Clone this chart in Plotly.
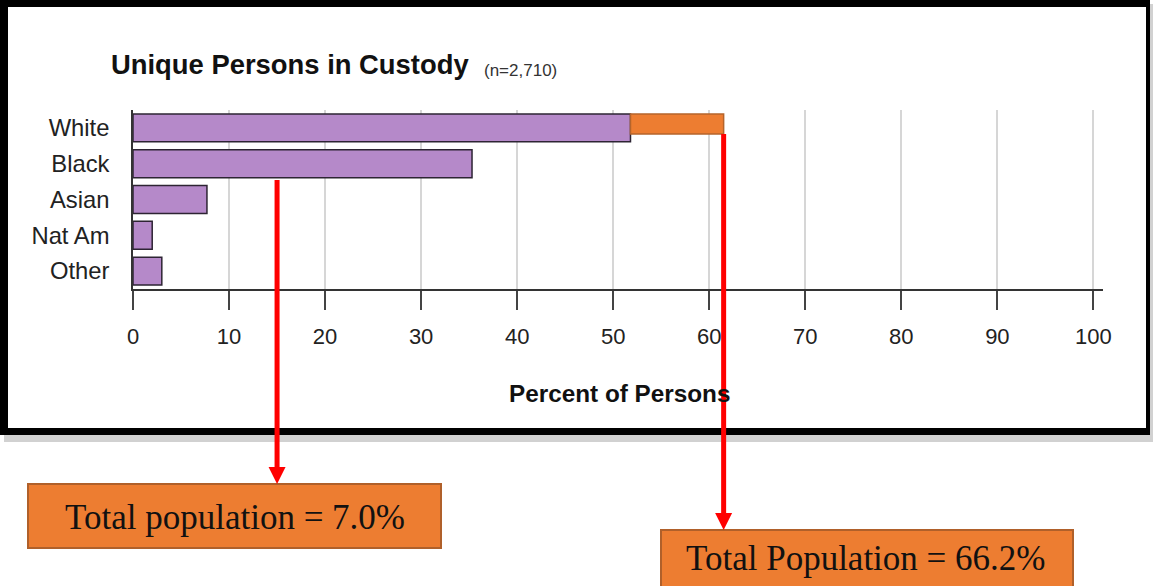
import plotly.graph_objects as go

# ---------------- data ----------------
categories = ["White", "Black", "Asian", "Nat Am", "Other"]
custody_pct = [51.8, 35.3, 7.7, 2.0, 3.0]
overlay_category = ["White"]
overlay_start = [51.8]
overlay_end = [61.5]
x_ticks = [0, 10, 20, 30, 40, 50, 60, 70, 80, 90, 100]
callout_texts = ["Total population = 7.0%", "Total Population = 66.2%"]
callout_x = [15.0, 61.5]

# ---------------- layout geometry (pixels) ----------------
W, H = 1153, 586
L, R, T, B = 133, 50, 110, 297
PW, PH = W - L - R, H - T - B
XMAX = 101


def xp(px):
    return (px - L) / PW


def yp(py):
    return (H - B - py) / PH


def dx(px):
    return px * XMAX / PW


SANS = "Liberation Sans, Arial, sans-serif"
SERIF = "Liberation Serif, Times New Roman, serif"

fig = go.Figure()
fig.add_trace(go.Bar(
    y=categories, x=custody_pct, orientation="h", width=0.78,
    marker=dict(color="#b589c9", line=dict(color="#2d2433", width=1.5)),
    hoverinfo="x+y", showlegend=False,
))
fig.add_trace(go.Bar(
    y=overlay_category, x=[e - s for s, e in zip(overlay_start, overlay_end)],
    base=overlay_start, orientation="h", width=0.56, offset=-0.39,
    marker=dict(color="#ed7d31", line=dict(color="#b5642b", width=1.5)),
    showlegend=False,
))

shapes = []
# frame (black border)
for (x0, y0, x1, y1) in [(0, 0, 1150, 7), (0, 428, 1150, 435), (0, 0, 8, 435), (1146, 0, 1150, 435)]:
    shapes.append(dict(type="rect", xref="paper", yref="paper",
                       x0=xp(x0), x1=xp(x1), y0=yp(y0), y1=yp(y1),
                       fillcolor="black", line=dict(width=0), layer="above"))
# soft shadow
shapes.append(dict(type="rect", xref="paper", yref="paper",
                   x0=xp(4), x1=xp(1153), y0=yp(435), y1=yp(442),
                   fillcolor="rgba(0,0,0,0.18)", line=dict(width=0), layer="above"))
shapes.append(dict(type="rect", xref="paper", yref="paper",
                   x0=xp(1150), x1=xp(1153), y0=yp(4), y1=yp(435),
                   fillcolor="rgba(0,0,0,0.18)", line=dict(width=0), layer="above"))

# callout boxes
boxes = [(28, 484, 441, 548), (661, 530, 1073, 588)]
for (x0, y0, x1, y1) in boxes:
    shapes.append(dict(type="rect", xref="paper", yref="paper",
                       x0=xp(x0), x1=xp(x1), y0=yp(y0), y1=yp(y1),
                       fillcolor="#ed7d31", line=dict(color="#b0602a", width=2), layer="above"))

# red arrows
arrow_top = [180, 134]
arrow_head = [(467, 484), (513, 530)]
for xv, ytop, (hy0, hy1) in zip(callout_x, arrow_top, arrow_head):
    shapes.append(dict(type="line", xref="x", yref="paper",
                       x0=xv, x1=xv, y0=yp(ytop), y1=yp(hy0 + 1),
                       line=dict(color="#ff0000", width=5), layer="above"))
    hw = dx(8.5)
    path = (f"M {xv - hw},{yp(hy0)} L {xv + hw},{yp(hy0)} L {xv},{yp(hy1)} Z")
    shapes.append(dict(type="path", xref="x", yref="paper", path=path,
                       fillcolor="#ff0000", line=dict(color="#ff0000", width=0), layer="above"))

annotations = [
    dict(text="<b>Unique Persons in Custody</b>", xref="paper", yref="paper",
         x=xp(109), y=yp(64.5), xanchor="left", yanchor="middle", showarrow=False,
         font=dict(family=SANS, size=27.4, color="#111")),
    dict(text="(n=2,710)", xref="paper", yref="paper",
         x=xp(482), y=yp(70.5), xanchor="left", yanchor="middle", showarrow=False,
         font=dict(family=SANS, size=17, color="#333")),
    dict(text="<b>Percent of Persons</b>", xref="paper", yref="paper",
         x=xp(619), y=yp(393.5), xanchor="center", yanchor="middle", showarrow=False,
         font=dict(family=SANS, size=24.3, color="#111")),
]
text_centers = [(234.5, 517), (866, 558)]
for txt, (cx, cy) in zip(callout_texts, text_centers):
    annotations.append(dict(text=txt, xref="paper", yref="paper", x=xp(cx), y=yp(cy),
                            xanchor="center", yanchor="middle", showarrow=False,
                            font=dict(family=SERIF, size=35, color="#111")))

fig.update_layout(
    width=W, height=H,
    margin=dict(l=L, r=R, t=T, b=B, pad=0),
    paper_bgcolor="white", plot_bgcolor="white",
    barmode="overlay",
    shapes=shapes, annotations=annotations,
    xaxis=dict(range=[0, XMAX], tickvals=x_ticks, ticktext=[str(v) for v in x_ticks],
               showgrid=True, gridcolor="#d6d6d6", gridwidth=1.5, zeroline=False,
               showline=True, linecolor="#333", linewidth=1.5,
               ticks="outside", ticklen=19, tickwidth=2, tickcolor="#444",
               ticklabelstandoff=8,
               tickfont=dict(family=SANS, size=22, color="#222"), fixedrange=True),
    yaxis=dict(type="category", categoryorder="array", categoryarray=categories,
               range=[4.5, -0.5], showgrid=False, zeroline=False,
               showline=True, linecolor="#333", linewidth=1.5, ticks="",
               ticklabelstandoff=17,
               tickfont=dict(family=SANS, size=23.8, color="#222"), fixedrange=True),
)

fig.write_html("out.html")
